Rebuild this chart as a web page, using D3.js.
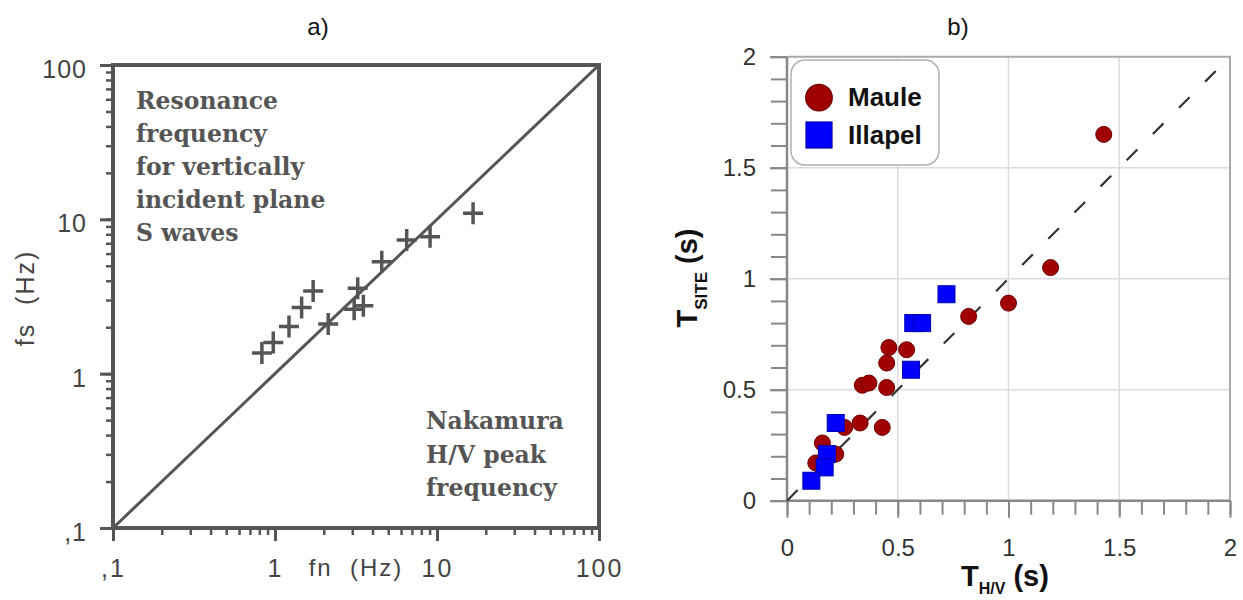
<!DOCTYPE html>
<html><head><meta charset="utf-8">
<script src="https://cdn.jsdelivr.net/npm/d3@7"></script>
<style>body{margin:0;background:#fff}svg{display:block}</style>
</head><body>
<svg id="c" width="1243" height="600"></svg>
<script>
// ---------- data: panel a ----------
const fnHz = [0.83, 0.976, 1.22, 1.46, 1.72, 2.13, 3.24, 3.08, 3.51, 4.56, 6.50, 9.06, 16.7];
const fsHz = [1.36, 1.59, 2.02, 2.68, 3.43, 2.10, 3.57, 2.61, 2.75, 5.32, 7.35, 7.72, 10.97];
const logMajorTicks = [0.1, 1, 10, 100];
const logTickLabels = [",1", "1", "10", "100"];
const noteUpper = ["Resonance", "frequency", "for vertically", "incident plane", "S waves"];
const noteLower = ["Nakamura", "H/V peak", "frequency"];

// ---------- data: panel b ----------
const seriesNames = ["Maule", "Illapel"];
const mauleTHV   = [1.43, 1.19, 1.00, 0.82, 0.46, 0.54, 0.45, 0.34, 0.37, 0.45, 0.33, 0.26, 0.43, 0.16, 0.22, 0.13];
const mauleTSITE = [1.65, 1.05, 0.89, 0.83, 0.69, 0.68, 0.62, 0.52, 0.53, 0.51, 0.35, 0.33, 0.33, 0.26, 0.21, 0.17];
const illapelTHV   = [0.72, 0.57, 0.61, 0.56, 0.22, 0.18, 0.17, 0.11];
const illapelTSITE = [0.93, 0.80, 0.80, 0.59, 0.35, 0.21, 0.15, 0.09];
const linMajorTicks = [0, 0.5, 1, 1.5, 2];
const linTickLabels = ["0", "0.5", "1", "1.5", "2"];

const svg = d3.select("#c");
const sans = "Arial, 'Liberation Sans', Helvetica, sans-serif";

// ================= PANEL A =================
const ink = "#555";
const xa = d3.scaleLog().domain([0.1, 100]).range([113, 599]);
const ya = d3.scaleLog().domain([0.1, 100]).range([528, 65]);
const ga = svg.append("g");

ga.append("text").attr("x", 318).attr("y", 35).attr("text-anchor", "middle")
  .attr("font-family", sans).attr("font-size", 24).attr("fill", "#111").text("a)");

function styleAxisA(g, w) {
  g.select(".domain").remove();
  g.selectAll(".tick line").attr("stroke", ink).attr("stroke-width", w);
}
const minorA = xa.ticks();
// x axis
ga.append("g").attr("transform", "translate(0,528)")
  .call(d3.axisBottom(xa).tickValues(minorA).tickSize(7).tickFormat(""))
  .call(g => styleAxisA(g, 2.5));
ga.append("g").attr("transform", "translate(0,528)")
  .call(d3.axisBottom(xa).tickValues(logMajorTicks).tickSize(13).tickPadding(18)
    .tickFormat((d, i) => logTickLabels[i]))
  .call(g => styleAxisA(g, 3))
  .call(g => g.selectAll("text").attr("font-family", sans).attr("font-size", 25)
    .attr("letter-spacing", 2).attr("fill", "#444"));
// y axis
ga.append("g").attr("transform", "translate(113,0)")
  .call(d3.axisLeft(ya).tickValues(minorA).tickSize(7).tickFormat(""))
  .call(g => styleAxisA(g, 2.5));
ga.append("g").attr("transform", "translate(113,0)")
  .call(d3.axisLeft(ya).tickValues(logMajorTicks).tickSize(13).tickPadding(13)
    .tickFormat((d, i) => logTickLabels[i]))
  .call(g => styleAxisA(g, 3))
  .call(g => g.selectAll("text").attr("font-family", sans).attr("font-size", 25)
    .attr("dy", "0.5em").attr("letter-spacing", 1).attr("fill", "#444"));

// frame
ga.append("rect").attr("x", xa(0.1)).attr("y", ya(100))
  .attr("width", xa(100) - xa(0.1)).attr("height", ya(0.1) - ya(100))
  .attr("fill", "none").attr("stroke", ink).attr("stroke-width", 4);

// 1:1 line
ga.append("line").attr("x1", xa(0.1)).attr("y1", ya(0.1)).attr("x2", xa(100)).attr("y2", ya(100))
  .attr("stroke", ink).attr("stroke-width", 3);

// crosses
ga.append("g").selectAll("path").data(fnHz).join("path")
  .attr("transform", (d, i) => `translate(${xa(d)},${ya(fsHz[i])})`)
  .attr("d", "M-10,0H10M0,-11V11")
  .attr("stroke", ink).attr("stroke-width", 3.5).attr("fill", "none");

// notes
const serif = "'DejaVu Serif', serif";
ga.append("g").selectAll("text").data(noteUpper).join("text")
  .attr("x", 136).attr("y", (d, i) => 109 + i * 33)
  .attr("font-family", serif).attr("font-weight", "bold").attr("font-size", 23.5)
  .attr("fill", ink).text(d => d);
ga.append("g").selectAll("text").data(noteLower).join("text")
  .attr("x", 426).attr("y", (d, i) => 429 + i * 33.5)
  .attr("font-family", serif).attr("font-weight", "bold").attr("font-size", 23.5)
  .attr("fill", ink).text(d => d);

// axis titles
ga.append("text").attr("x", 356).attr("y", 576).attr("text-anchor", "middle")
  .attr("font-family", sans).attr("font-size", 24).attr("letter-spacing", 2)
  .attr("fill", "#444").attr("xml:space", "preserve").text("fn  (Hz)");
ga.append("text").attr("transform", "translate(25,298) rotate(-90)")
  .attr("text-anchor", "middle").attr("dy", "0.35em")
  .attr("font-family", sans).attr("font-size", 25).attr("letter-spacing", 2)
  .attr("fill", "#444").attr("xml:space", "preserve").text("fs  (Hz)");

// ================= PANEL B =================
const xb = d3.scaleLinear().domain([0, 2]).range([787, 1230]);
const yb = d3.scaleLinear().domain([0, 2]).range([500.7, 56.7]);
const gb = svg.append("g");

gb.append("text").attr("x", 958).attr("y", 35).attr("text-anchor", "middle")
  .attr("font-family", sans).attr("font-size", 24).attr("fill", "#111").text("b)");

// grid
const gridVals = [0.5, 1, 1.5];
gb.append("g").selectAll("line").data(gridVals).join("line")
  .attr("x1", d => xb(d)).attr("x2", d => xb(d)).attr("y1", yb(0)).attr("y2", yb(2))
  .attr("stroke", "#dcdcdc").attr("stroke-width", 1.5);
gb.append("g").selectAll("line").data(gridVals).join("line")
  .attr("y1", d => yb(d)).attr("y2", d => yb(d)).attr("x1", xb(0)).attr("x2", xb(2))
  .attr("stroke", "#dcdcdc").attr("stroke-width", 1.5);
// top & right border
gb.append("path")
  .attr("d", `M${xb(0)},${yb(2)}H${xb(2)}V${yb(0)}`)
  .attr("fill", "none").attr("stroke", "#aaa").attr("stroke-width", 2);

const minorB = d3.range(0, 2.0001, 0.1).map(v => +v.toFixed(1));
const axisCol = "#888";
function styleAxisB(g) {
  g.select(".domain").remove();
  g.selectAll(".tick line").attr("stroke", axisCol).attr("stroke-width", 2);
}
gb.append("g").attr("transform", `translate(0,${yb(0)})`)
  .call(d3.axisBottom(xb).tickValues(minorB).tickSize(14).tickFormat(""))
  .call(styleAxisB);
gb.append("g").attr("transform", `translate(0,${yb(0)})`)
  .call(d3.axisBottom(xb).tickValues(linMajorTicks).tickSize(17).tickPadding(21)
    .tickFormat((d, i) => linTickLabels[i]))
  .call(styleAxisB)
  .call(g => g.selectAll("text").attr("font-family", sans).attr("font-size", 24).attr("fill", "#333"));
gb.append("g").attr("transform", `translate(${xb(0)},0)`)
  .call(d3.axisLeft(yb).tickValues(minorB).tickSize(16).tickFormat(""))
  .call(styleAxisB);
gb.append("g").attr("transform", `translate(${xb(0)},0)`)
  .call(d3.axisLeft(yb).tickValues(linMajorTicks).tickSize(17).tickPadding(14)
    .tickFormat((d, i) => linTickLabels[i]))
  .call(styleAxisB)
  .call(g => g.selectAll("text").attr("font-family", sans).attr("font-size", 24).attr("fill", "#333"));
// axis lines
gb.append("path").attr("d", `M${xb(0)},${yb(2)}V${yb(0)}H${xb(2)}`)
  .attr("fill", "none").attr("stroke", axisCol).attr("stroke-width", 2.5);

// 1:1 dashed line
gb.append("line").attr("x1", xb(0)).attr("y1", yb(0)).attr("x2", xb(2)).attr("y2", yb(2))
  .attr("stroke", "#333").attr("stroke-width", 2.2).attr("stroke-dasharray", "15,22");

// markers
gb.append("g").selectAll("circle").data(mauleTHV).join("circle")
  .attr("cx", d => xb(d)).attr("cy", (d, i) => yb(mauleTSITE[i])).attr("r", 8)
  .attr("fill", "#a00000").attr("stroke", "#6e0000").attr("stroke-width", 1);
const sq = 17;
gb.append("g").selectAll("rect").data(illapelTHV).join("rect")
  .attr("x", d => xb(d) - sq / 2).attr("y", (d, i) => yb(illapelTSITE[i]) - sq / 2)
  .attr("width", sq).attr("height", sq)
  .attr("fill", "#0000ff").attr("stroke", "#0000b0").attr("stroke-width", 1);

// legend
const lg = gb.append("g");
lg.append("rect").attr("x", 791).attr("y", 60).attr("width", 148).attr("height", 105).attr("rx", 14)
  .attr("fill", "#fff").attr("stroke", "#b0b0b0").attr("stroke-width", 1.5);
lg.append("circle").attr("cx", 819).attr("cy", 97.7).attr("r", 13.3)
  .attr("fill", "#a00000").attr("stroke", "#6e0000").attr("stroke-width", 1.2);
lg.append("rect").attr("x", 806).attr("y", 122).attr("width", 26).attr("height", 26)
  .attr("fill", "#0000ff").attr("stroke", "#0000b0").attr("stroke-width", 1.2);
lg.selectAll("text.lab").data(seriesNames).join("text").attr("class", "lab")
  .attr("x", 848).attr("y", (d, i) => 105.5 + i * 38)
  .attr("font-family", sans).attr("font-weight", "bold").attr("font-size", 26)
  .attr("fill", "#111").text(d => d);

// axis titles
const xt = gb.append("text").attr("x", 961).attr("y", 586)
  .attr("font-family", sans).attr("font-weight", "bold").attr("font-size", 29).attr("fill", "#111");
xt.append("tspan").text("T");
xt.append("tspan").attr("font-size", 16).attr("dy", 8).text("H/V");
xt.append("tspan").attr("dy", -8).text(" (s)");

const yt = gb.append("text").attr("transform", "translate(697,278) rotate(-90)")
  .attr("text-anchor", "middle")
  .attr("font-family", sans).attr("font-weight", "bold").attr("font-size", 29).attr("fill", "#111");
yt.append("tspan").text("T");
yt.append("tspan").attr("font-size", 17).attr("dy", 10).text("SITE");
yt.append("tspan").attr("dy", -10).text(" (s)");
</script>
</body></html>
